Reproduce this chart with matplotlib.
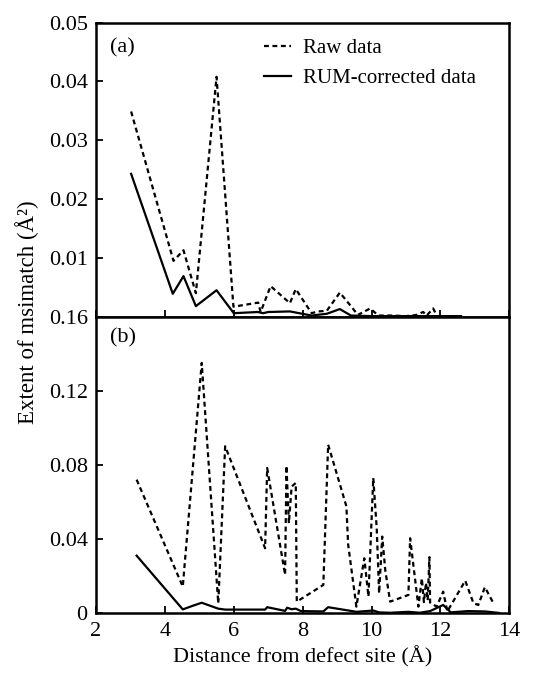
import matplotlib
matplotlib.use("Agg")
import matplotlib.pyplot as plt

plt.rcParams['font.family'] = ['Liberation Serif', 'DejaVu Serif']

# panel (a)
raw_a_x = [3.02, 4.25, 4.54, 4.90, 5.50, 5.99, 6.71, 6.78, 7.07, 7.63, 7.80, 8.26, 8.45, 8.70, 9.08, 9.47, 9.60, 9.96,
           10.2, 10.6, 11.0, 11.3, 11.5, 11.6, 11.79, 11.9, 12.57]
raw_a_y = [0.0349, 0.0095, 0.0113, 0.0040, 0.0408, 0.0017, 0.0024, 0.0008, 0.0052, 0.0023, 0.0047, 0.0006, 0.0009,
           0.0010, 0.0041, 0.0013, 0.0003, 0.0014, 0.0002, 0.0002, 0.0001, 0.0003, 0.0008, 0.0002, 0.0014, 0.0001, 0.0001]
rum_a_x = [3.02, 4.23, 4.54, 4.90, 5.50, 6.00, 6.70, 6.85, 7.00, 7.63, 8.26, 8.70, 9.08, 9.40, 10.0, 11.0, 12.0, 12.6]
rum_a_y = [0.0243, 0.0039, 0.0069, 0.0018, 0.0045, 0.0006, 0.0008, 0.0006, 0.0008, 0.0009, 0.0002, 0.0005, 0.0013,
           0.0002, 0.0001, 0.0001, 0.0001, 0.0001]

# panel (b)
raw_b_x = [3.18, 4.52, 5.07, 5.55, 5.75, 6.91, 6.97, 7.49, 7.53, 7.60, 7.68, 7.80, 7.83, 8.60, 8.74, 9.27, 9.32, 9.56,
           9.79, 9.91, 10.05, 10.15, 10.22, 10.31, 10.40, 10.54, 11.07, 11.12, 11.36, 11.46, 11.52, 11.58, 11.63, 11.68,
           11.70, 11.89, 12.08, 12.20, 12.72, 12.96, 13.10, 13.29, 13.54]
raw_b_y = [0.0721, 0.0144, 0.1351, 0.0054, 0.0901, 0.0351, 0.0784, 0.0207, 0.0796, 0.0486, 0.0684, 0.0703, 0.0063,
           0.0153, 0.0910, 0.0577, 0.0372, 0.0036, 0.0297, 0.0090, 0.0730, 0.0460, 0.0108, 0.0414, 0.0230, 0.0063,
           0.0099, 0.0405, 0.0036, 0.0189, 0.0060, 0.0165, 0.0070, 0.0303, 0.0058, 0.0036, 0.0117, 0.0010, 0.0176,
           0.0054, 0.0045, 0.0141, 0.0054]
rum_b_x = [3.18, 4.52, 4.80, 5.07, 5.55, 5.75, 6.91, 6.97, 7.49, 7.55, 7.68, 7.80, 7.95, 8.60, 8.74, 9.56, 10.05, 10.22,
           10.54, 11.07, 11.40, 11.70, 12.08, 12.30, 12.80, 13.30, 13.70]
rum_b_y = [0.0311, 0.0021, 0.0040, 0.0057, 0.0025, 0.0020, 0.0020, 0.0033, 0.0013, 0.0030, 0.0022, 0.0025, 0.0012,
           0.0010, 0.0033, 0.0008, 0.0015, 0.0005, 0.0003, 0.0008, 0.0003, 0.0012, 0.0045, 0.0005, 0.0012, 0.0010, 0.0002]

dash = (0, (2.2, 1.6))

fig = plt.figure(figsize=(5.38, 6.73), dpi=100)
ax1 = fig.add_axes([0.1784, 0.5294, 0.7683, 0.4369])
ax2 = fig.add_axes([0.1784, 0.0887, 0.7683, 0.4407])

ax1.plot(raw_a_x, raw_a_y, color='black', lw=1.6, linestyle=dash, label='Raw data')
ax1.plot(rum_a_x, rum_a_y, color='black', lw=1.6, label='RUM-corrected data')
ax2.plot(raw_b_x, raw_b_y, color='black', lw=1.6, linestyle=dash)
ax2.plot(rum_b_x, rum_b_y, color='black', lw=1.6)

for ax in (ax1, ax2):
    ax.set_xlim(2, 14)
    ax.set_xticks([2, 4, 6, 8, 10, 12, 14])
    ax.tick_params(direction='in', length=5, width=1.3, labelsize=16, pad=6)
    for s in ax.spines.values():
        s.set_linewidth(1.8)

ax1.set_ylim(0, 0.05)
ax1.set_yticks([0.01, 0.02, 0.03, 0.04, 0.05])
ax1.set_yticklabels(['0.01', '0.02', '0.03', '0.04', '0.05'])
ax1.tick_params(axis='x', labelbottom=False)

ax2.set_ylim(0, 0.16)
ax2.set_yticks([0, 0.04, 0.08, 0.12, 0.16])
ax2.set_yticklabels(['0', '0.04', '0.08', '0.12', '0.16'])
ax2.set_xlabel('Distance from defect site (Å)', fontsize=16, labelpad=4)

ax1.text(0.035, 0.915, '(a)', transform=ax1.transAxes, fontsize=16, va='center')
ax2.text(0.035, 0.93, '(b)', transform=ax2.transAxes, fontsize=16, va='center')

ax1.legend(loc='upper left', bbox_to_anchor=(0.36, 1.01), frameon=False, fontsize=15,
           handlelength=1.3, handletextpad=0.6, labelspacing=0.5)

fig.text(0.05, 0.536, 'Extent of msimatch (Å²)', rotation=90, fontsize=16.5,
         ha='center', va='center')

fig.savefig('out.png', dpi=100)
